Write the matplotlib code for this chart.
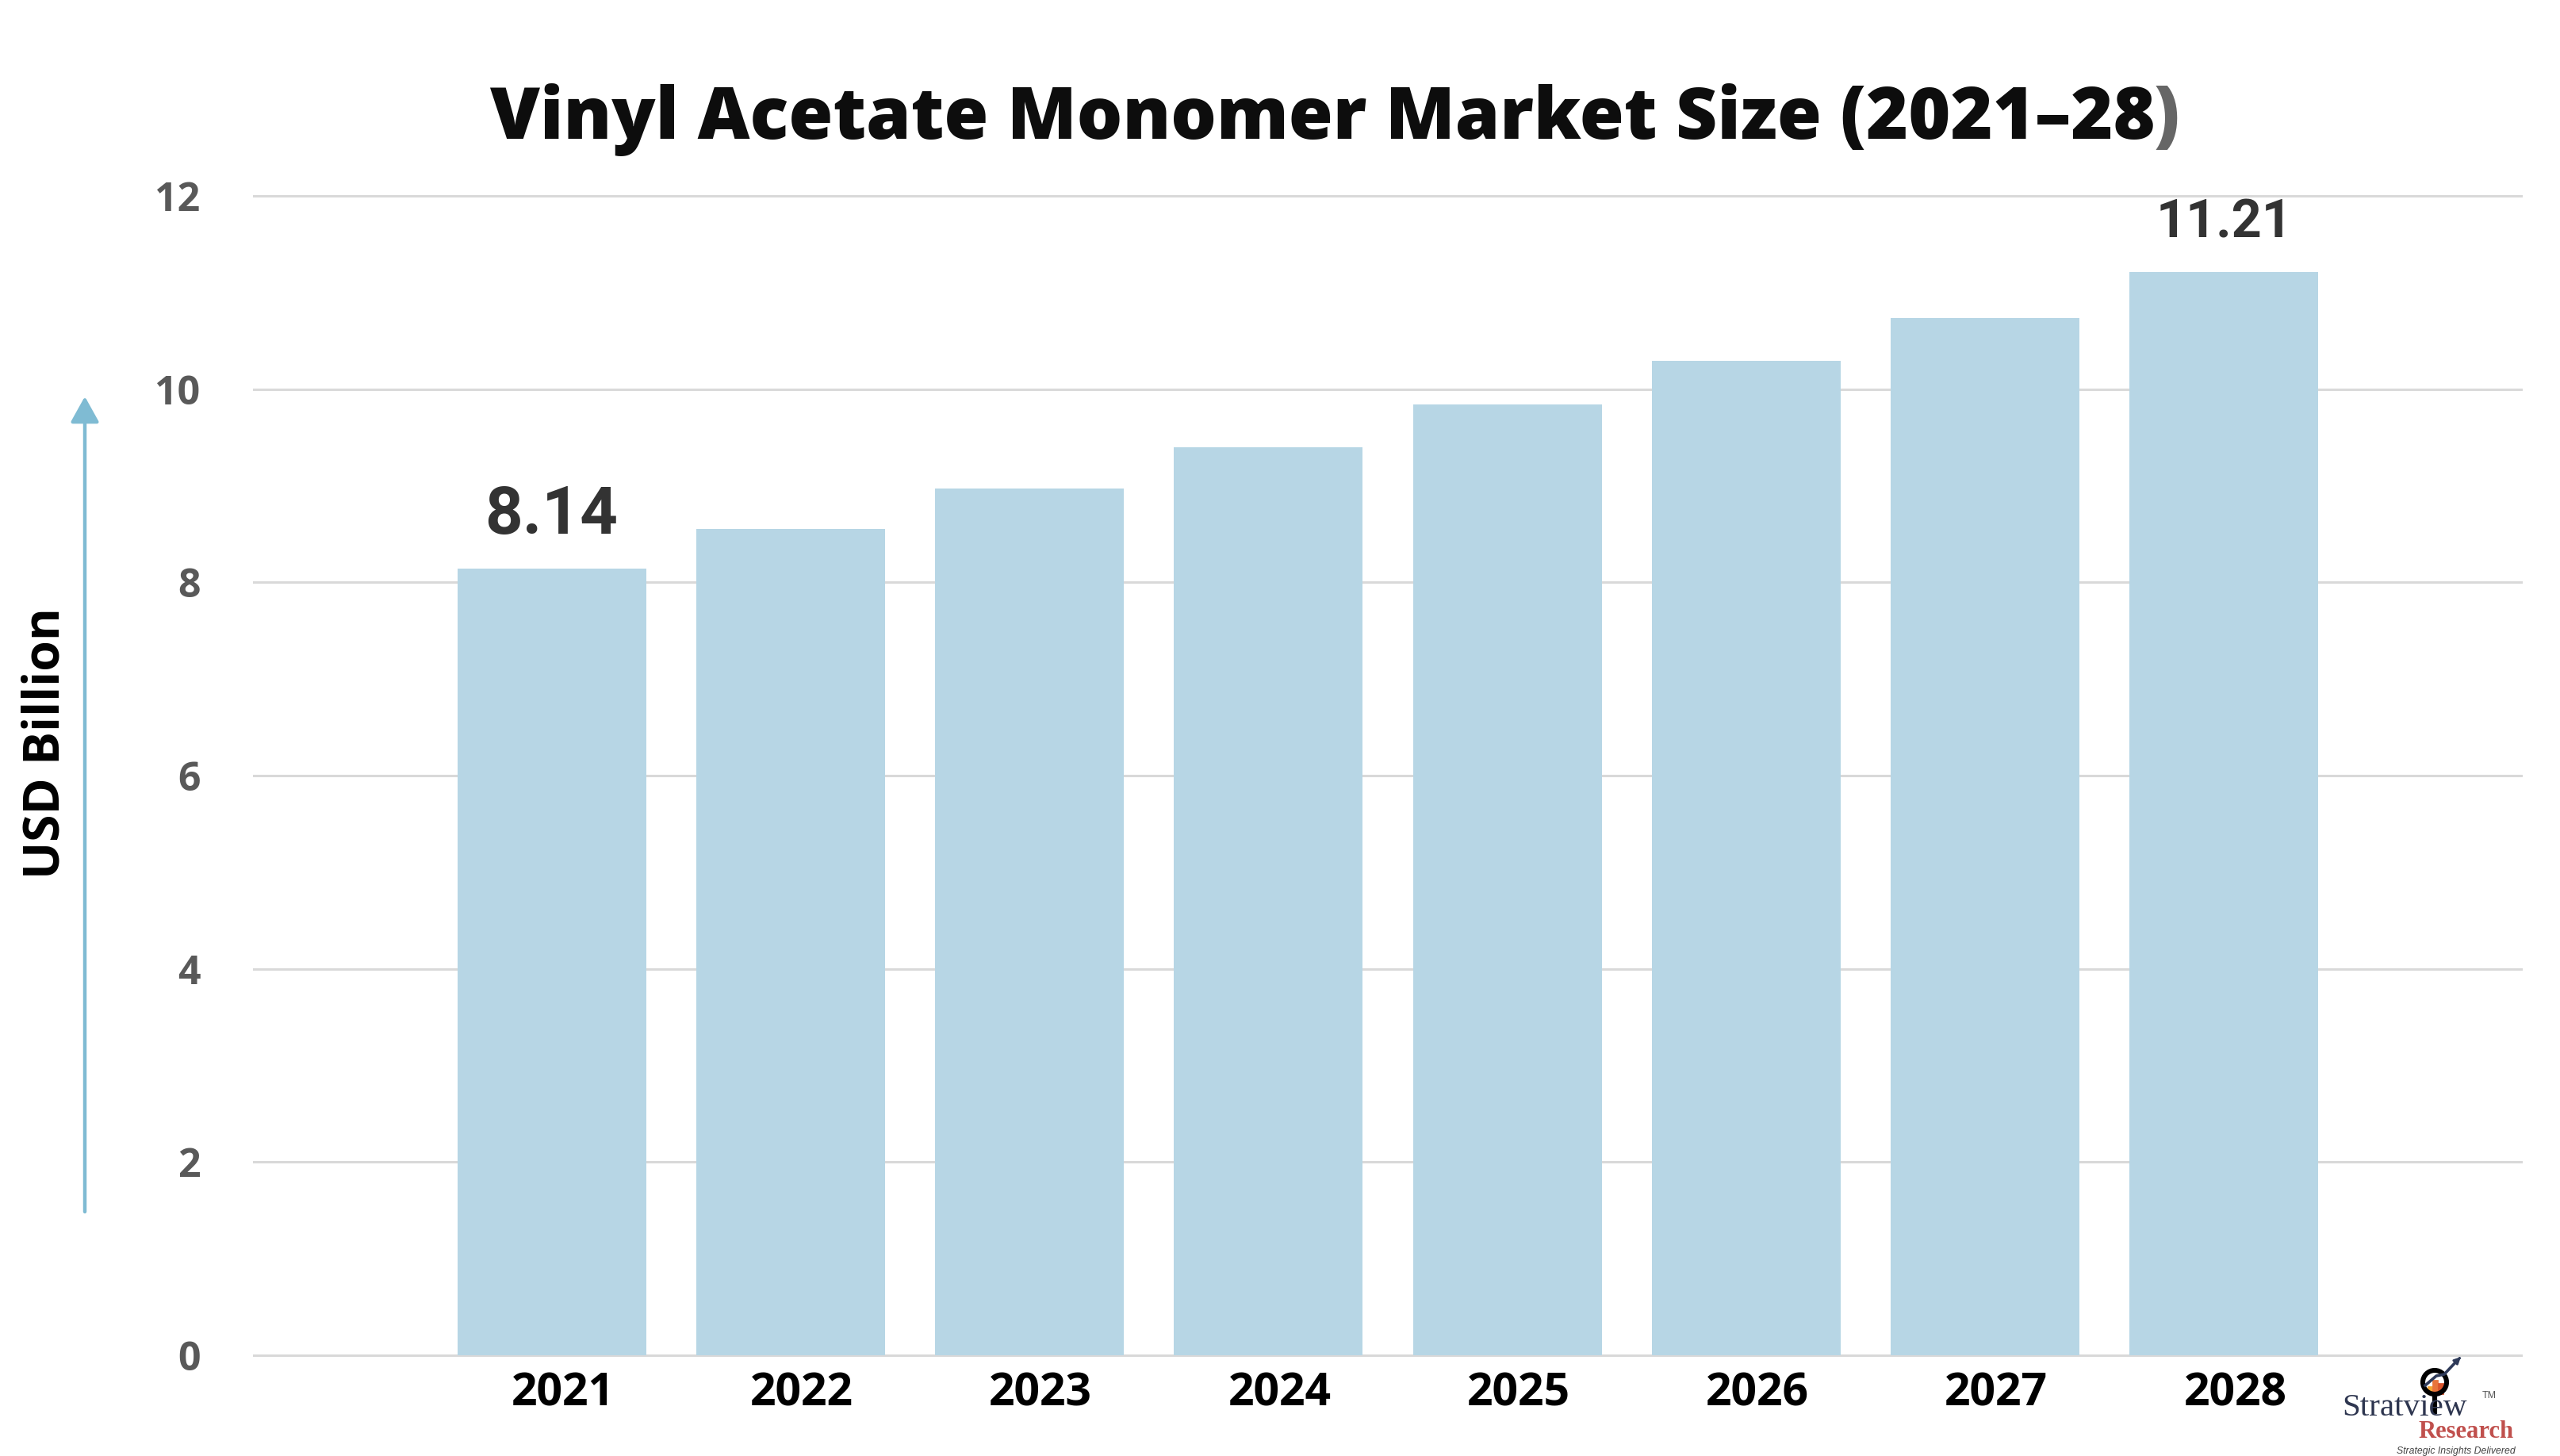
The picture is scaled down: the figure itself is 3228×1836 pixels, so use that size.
import matplotlib
matplotlib.use("Agg")
import matplotlib.pyplot as plt
from matplotlib.transforms import ScaledTranslation
from matplotlib.patches import Circle, Rectangle

# ---------------- data ----------------
years = ["2021", "2022", "2023", "2024", "2025", "2026", "2027", "2028"]
values = [8.14, 8.55, 8.97, 9.40, 9.84, 10.29, 10.74, 11.21]
label_idx = [0, 7]
label_txt = ["8.14", "11.21"]
label_size = [30, 24]
yticks = [0, 2, 4, 6, 8, 10, 12]
title_main = "Vinyl Acetate Monomer Market Size (2021\u201328"
title_close = ")"
ylabel = "USD Billion"

W, H, DPI = 3228, 1836, 200
fig = plt.figure(figsize=(W / DPI, H / DPI), dpi=DPI)
fig.patch.set_facecolor("white")

def fx(px):
    return px / W

def fy(py):
    return 1 - py / H

# axes: y=0 at 1709 px, y=12 at 247 px, x from 319 to 3181 px
ymin, ymax = -0.05, 12.05
unit = (1709 - 247) / 12.0
top_px = 247 - (ymax - 12) * unit
bot_px = 1709 + (0 - ymin) * unit
ax = fig.add_axes([fx(319), fy(bot_px), fx(3181) - fx(319), (bot_px - top_px) / H])

xs = list(range(len(years)))
ax.bar(xs, values, width=0.79, color="#B7D6E5", zorder=3)
ax.set_xlim(-1.25, 8.25)
ax.set_ylim(ymin, ymax)
ax.set_yticks(yticks)
ax.yaxis.grid(True, color="#D9D9D9", lw=1.1, zorder=0)
ax.set_axisbelow(True)
for s in ax.spines.values():
    s.set_visible(False)
ax.tick_params(length=0)
ax.set_xticks(xs)
ax.set_xticklabels(years, fontsize=20.5, fontweight="bold", color="black", family="Open Sans")
ax.set_yticklabels([str(v) for v in yticks], fontsize=18, fontweight="bold",
                   color="#595959", family="Open Sans")
ax.tick_params(axis="x", pad=5)
ax.tick_params(axis="y", pad=24)
off = ScaledTranslation(0.07, 0, fig.dpi_scale_trans)
for lab in ax.get_xticklabels():
    lab.set_transform(lab.get_transform() + off)

for i, t, fs in zip(label_idx, label_txt, label_size):
    ax.text(xs[i], values[i] + 0.36, t, ha="center", va="baseline", fontsize=fs,
            fontweight="bold", color="#333333", family="Roboto", zorder=4)

# ---------------- title ----------------
tfs = 38
t1 = fig.text(0, fy(175), title_main, fontsize=tfs, fontweight="heavy", color="#0D0D0D",
              family="Open Sans", ha="left", va="baseline")
t2 = fig.text(0, fy(175), title_close, fontsize=tfs, fontweight="heavy", color="#666666",
              family="Open Sans", ha="left", va="baseline")
fig.canvas.draw()
r = fig.canvas.get_renderer()
w1 = t1.get_window_extent(r).width
w2 = t2.get_window_extent(r).width
scale = 2130.0 / (w1 + w2)
tfs2 = tfs * scale
t1.set_fontsize(tfs2)
t2.set_fontsize(tfs2)
w1 *= scale
w2 *= scale
start = 1683 - (w1 + w2) / 2
t1.set_x(fx(start))
t2.set_x(fx(start + w1))

# ---------------- y label + arrow ----------------
fig.text(fx(58), fy(937), ylabel, rotation=90, ha="center", va="center", fontsize=22.5,
         fontweight="bold", color="black", family="Open Sans")
ax.annotate("", xy=(107, H - 500), xytext=(107, H - 1528), xycoords="figure pixels",
            textcoords="figure pixels",
            arrowprops=dict(arrowstyle="-|>,head_length=0.45,head_width=0.25",
                            color="#7FBBD3", lw=1.6, mutation_scale=22, shrinkA=0, shrinkB=0))

# ---------------- logo ----------------
fig.text(fx(2953), fy(1785), "Stratview", fontsize=14.8, color="#2E3650",
         family="Liberation Serif", ha="left", va="baseline")
fig.text(fx(3130), fy(1763), "TM", fontsize=4.5, color="#555555",
         family="Liberation Sans", ha="left", va="baseline")
fig.text(fx(3170), fy(1813), "Research", fontsize=11, fontweight="bold", color="#C0504D",
         family="Liberation Serif", ha="right", va="baseline")
fig.text(fx(3172), fy(1833), "Strategic Insights Delivered", fontsize=4.4, style="italic",
         color="#444444", family="Liberation Sans", ha="right", va="baseline")

iax = fig.add_axes([fx(3040), fy(1790), 70 / W, 80 / H])
iax.set_xlim(3040, 3110)
iax.set_ylim(H - 1790, H - 1710)
iax.axis("off")
iax.add_patch(Rectangle((3062, H - 1757), 4, 8, color="#F4A533"))
iax.add_patch(Rectangle((3068, H - 1757), 5, 16, color="#E8743B"))
iax.add_patch(Rectangle((3075, H - 1757), 5, 12, color="#D9532B"))
iax.add_patch(Circle((3070, H - 1743), 15, fill=False, ec="black", lw=2.2))
iax.plot([3070, 3070], [H - 1758, H - 1783], color="black", lw=2.2, solid_capstyle="butt")
iax.plot([3058, 3072, 3082, 3098], [H - 1747, H - 1735, H - 1733, H - 1716],
         color="#2E3A59", lw=1.3)
iax.annotate("", xy=(3103, H - 1711), xytext=(3097, H - 1717),
             arrowprops=dict(arrowstyle="-|>", color="#2E3A59", lw=1, mutation_scale=6))

fig.savefig("out.png", dpi=DPI, facecolor="white")
